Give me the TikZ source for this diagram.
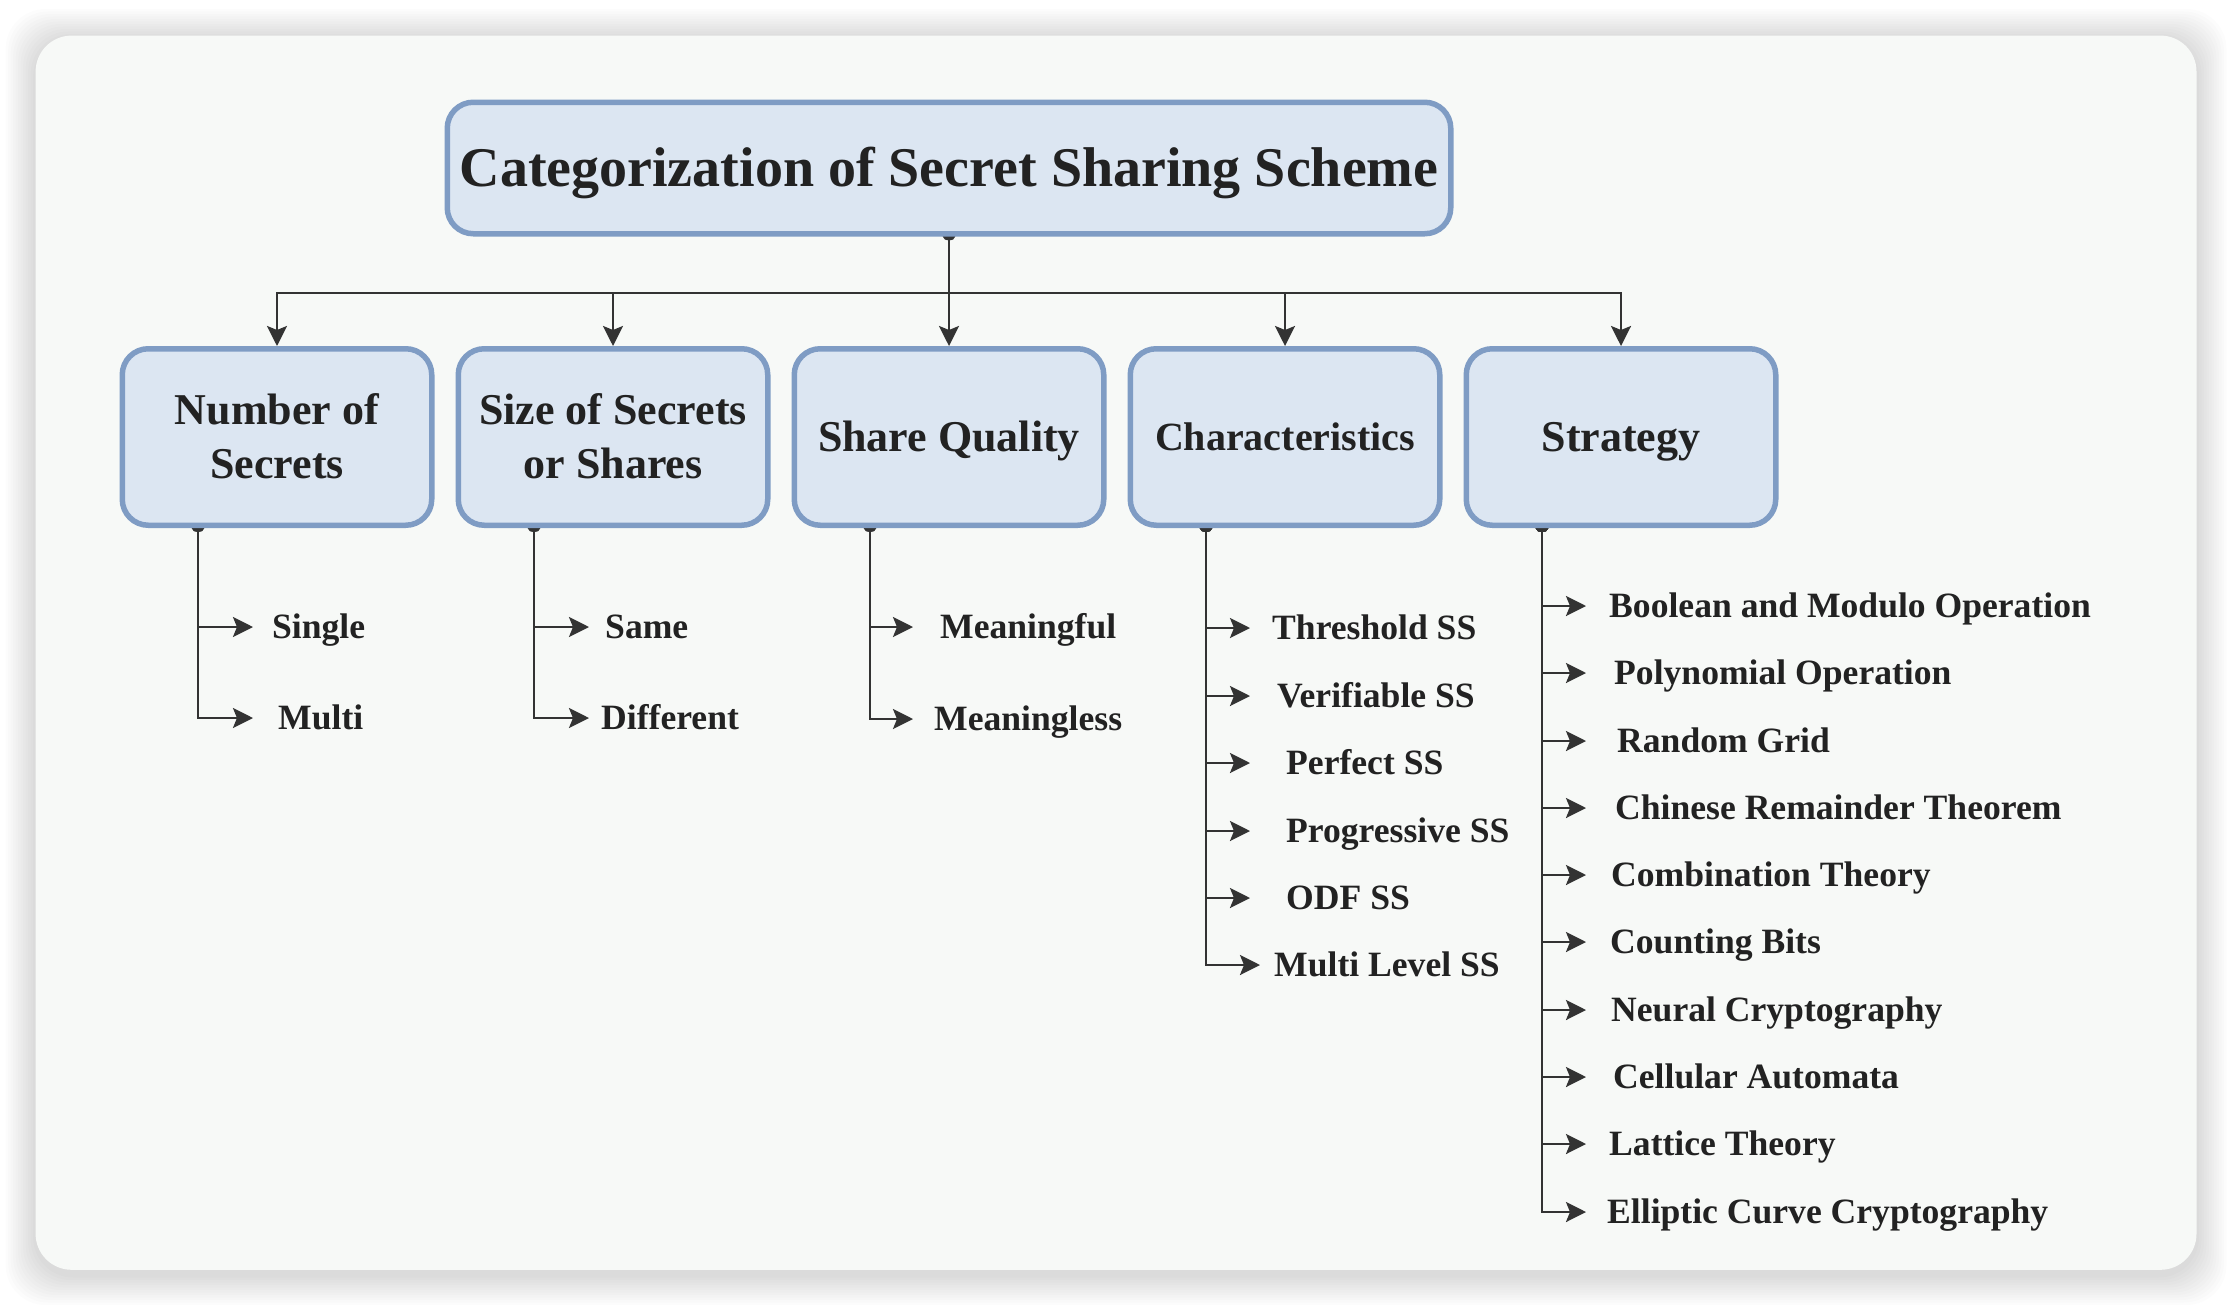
\documentclass[tikz,border=0pt]{standalone}
\usepackage{fontspec}
\setmainfont{Liberation Serif}
\usetikzlibrary{positioning, arrows.meta, calc, backgrounds}

\definecolor{cardbg}{HTML}{F7F9F7}
\definecolor{boxfill}{HTML}{DCE6F2}
\definecolor{boxline}{HTML}{7F9CC4}
\definecolor{linegray}{HTML}{333333}
\definecolor{textdark}{HTML}{222222}

\begin{document}
\begin{tikzpicture}[x=1pt, y=-1pt,
	catbox/.style={draw=boxline, line width=5.5pt, fill=boxfill, rounded corners=26pt,
		minimum width=309.5pt, minimum height=176.5pt, align=center, text=textdark,
		font=\bfseries\fontsize{44}{54}\selectfont, text height=29pt, text depth=0pt},
	leaf/.style={anchor=west, inner sep=0pt, text=textdark,
		font=\bfseries\fontsize{35.6}{42}\selectfont, text height=23.5pt, text depth=0pt},
	conn/.style={draw=linegray, line width=2.6pt, -{Stealth[length=20pt, width=20pt, inset=4pt]}},
	stem/.style={conn, {Circle[length=8pt, width=12pt]}-{Stealth[length=20pt, width=20pt, inset=4pt]}}]
	
	\useasboundingbox (0,0) rectangle (2232,1306);
	
	% Root
	\node[catbox, minimum width=1003.5pt, minimum height=131.5pt, inner xsep=4pt,
	font=\bfseries\fontsize{56}{64}\selectfont, text height=37pt] (root) at (949,168) {Categorization of Secret Sharing Scheme};
	
	% Category boxes
	\node[catbox, text height=83pt] (cat1) at ($(root) + (-672,269)$) {Number of\\Secrets};
	\node[catbox, text height=83pt] (cat2) at ($(root) + (-336,269)$) {Size of Secrets\\or Shares};
	\node[catbox] (cat3) at ($(root) + (0,269)$) {Share Quality};
	\node[catbox, font=\bfseries\fontsize{40}{48}\selectfont, text height=26.5pt] (cat4) at ($(root) + (336,269)$) {Characteristics};
	\node[catbox] (cat5) at ($(root) + (672,269)$) {Strategy};
	
	% Leaves
	\node[leaf] (single) at ($(cat1) + (-5,190)$) {Single};
	\node[leaf] (multi) at ($(cat1) + (1,281)$) {Multi};
	
	\node[leaf] (same) at ($(cat2) + (-8,190)$) {Same};
	\node[leaf] (different) at ($(cat2) + (-12,281)$) {Different};
	
	\node[leaf] (meaningful) at ($(cat3) + (-9,190)$) {Meaningful};
	\node[leaf] (meaningless) at ($(cat3) + (-15,282)$) {Meaningless};
	
	\node[leaf] (threshold) at ($(cat4) + (-13,191)$) {Threshold SS};
	\node[leaf] (verifiable) at ($(cat4) + (-8,259)$) {Verifiable SS};
	\node[leaf] (perfect) at ($(cat4) + (1,326)$) {Perfect SS};
	\node[leaf] (progressive) at ($(cat4) + (1,394)$) {Progressive SS};
	\node[leaf] (odf) at ($(cat4) + (1,461)$) {ODF SS};
	\node[leaf] (multilevel) at ($(cat4) + (-11,528)$) {Multi Level SS};
	
	\node[leaf] (boolean) at ($(cat5) + (-12,169)$) {Boolean and Modulo Operation};
	\node[leaf] (polynomial) at ($(cat5) + (-7,236)$) {Polynomial Operation};
	\node[leaf] (randomgrid) at ($(cat5) + (-4,304)$) {Random Grid};
	\node[leaf] (chinese) at ($(cat5) + (-6,371)$) {Chinese Remainder Theorem};
	\node[leaf] (combination) at ($(cat5) + (-10,438)$) {Combination Theory};
	\node[leaf] (counting) at ($(cat5) + (-11,505)$) {Counting Bits};
	\node[leaf] (neural) at ($(cat5) + (-10,573)$) {Neural Cryptography};
	\node[leaf] (cellular) at ($(cat5) + (-8,640)$) {Cellular Automata};
	\node[leaf] (lattice) at ($(cat5) + (-12,707)$) {Lattice Theory};
	\node[leaf] (elliptic) at ($(cat5) + (-14,775)$) {Elliptic Curve Cryptography};
	
	\begin{scope}[on background layer]
		
		% Card and shadow
		\fill[white] (0,0) rectangle (2232,1306);
		\foreach \s in {1,...,12}
		\fill[black, fill opacity=0.012, rounded corners=40pt] (35.6-\s*2.5,39-\s*2.5) rectangle (2196.5+\s*2.5,1275+\s*2.5);
		\fill[cardbg, rounded corners=36pt] (35.6,35.6) rectangle (2196.5,1269.8);
		
		% Connections
		\coordinate (rootdot) at ($(root.south) + (0,-4)$);
		\coordinate (bus) at ($(root.south) + (0,56.5)$);
		
		\draw[stem] (rootdot) -- (cat3.north);
		\draw[conn] (bus) -| (cat1.north);
		\draw[conn] (bus) -| (cat2.north);
		\draw[conn] (bus) -| (cat4.north);
		\draw[conn] (bus) -| (cat5.north);
		
		\coordinate (stem1) at ($(cat1.south) + (-79,-4)$);
		\coordinate (stem2) at ($(cat2.south) + (-79,-4)$);
		\coordinate (stem3) at ($(cat3.south) + (-79,-4)$);
		\coordinate (stem4) at ($(cat4.south) + (-79,-4)$);
		\coordinate (stem5) at ($(cat5.south) + (-79,-4)$);
		
		\draw[stem, shorten >=19pt] (stem1) |- (single.west);
		\draw[stem, shorten >=25pt] (stem1) |- (multi.west);
		
		\draw[stem, shorten >=16pt] (stem2) |- (same.west);
		\draw[stem, shorten >=12pt] (stem2) |- (different.west);
		
		\draw[stem, shorten >=27pt] (stem3) |- (meaningful.west);
		\draw[stem, shorten >=21pt] (stem3) |- (meaningless.west);
		
		\draw[stem, shorten >=22pt] (stem4) |- (threshold.west);
		\draw[stem, shorten >=27pt] (stem4) |- (verifiable.west);
		\draw[stem, shorten >=36pt] (stem4) |- (perfect.west);
		\draw[stem, shorten >=36pt] (stem4) |- (progressive.west);
		\draw[stem, shorten >=36pt] (stem4) |- (odf.west);
		\draw[stem, shorten >=14pt] (stem4) |- (multilevel.west);
		
		\draw[stem, shorten >=23pt] (stem5) |- (boolean.west);
		\draw[stem, shorten >=28pt] (stem5) |- (polynomial.west);
		\draw[stem, shorten >=31pt] (stem5) |- (randomgrid.west);
		\draw[stem, shorten >=29pt] (stem5) |- (chinese.west);
		\draw[stem, shorten >=25pt] (stem5) |- (combination.west);
		\draw[stem, shorten >=24pt] (stem5) |- (counting.west);
		\draw[stem, shorten >=25pt] (stem5) |- (neural.west);
		\draw[stem, shorten >=27pt] (stem5) |- (cellular.west);
		\draw[stem, shorten >=23pt] (stem5) |- (lattice.west);
		\draw[stem, shorten >=21pt] (stem5) |- (elliptic.west);
		
	\end{scope}
	
\end{tikzpicture}
\end{document}
